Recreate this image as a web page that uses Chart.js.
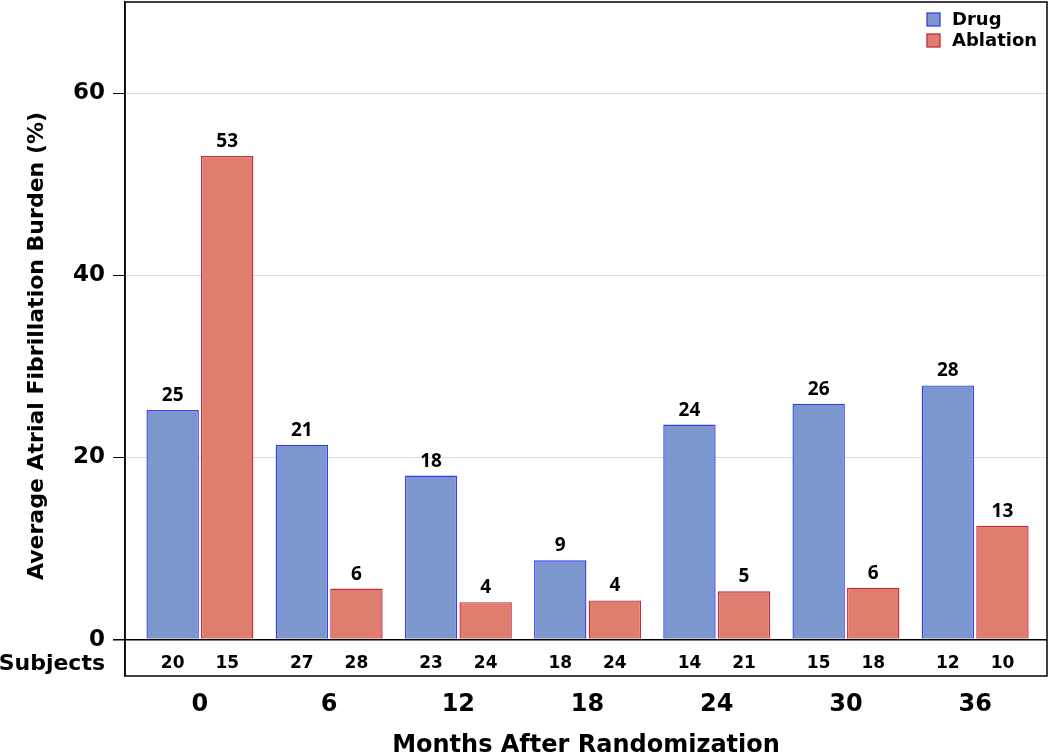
<!DOCTYPE html>
<html>
<head>
<meta charset="utf-8">
<script src="https://cdn.jsdelivr.net/npm/chart.js@4.4.0/dist/chart.umd.min.js"></script>
<style>
  html, body { margin: 0; padding: 0; background: #fff; }
  #wrap { width: 1050px; height: 755px; }
</style>
</head>
<body>
<div id="wrap"><canvas id="afChart"></canvas></div>
<script>
// Chart data
const months = ['0', '6', '12', '18', '24', '30', '36'];
const drugBurden = [25.2, 21.4, 18.0, 8.7, 23.6, 25.9, 27.9];
const ablationBurden = [53.1, 5.6, 4.1, 4.3, 5.3, 5.7, 12.5];
const drugSubjects = [20, 27, 23, 18, 14, 15, 12];
const ablationSubjects = [15, 28, 24, 24, 21, 18, 10];
const yTicks = [0, 20, 40, 60];
const yTitle = 'Average Atrial Fibrillation Burden (%)';

Chart.defaults.font.family = '"DejaVu Sans", sans-serif';
Chart.defaults.color = '#000';

// Frame, value labels, subject counts, y title and legend
const annotate = {
    id: 'annotate',
    afterDraw(chart) {
        const ctx = chart.ctx;
        const a = chart.chartArea;
        const y = chart.scales.y;
        ctx.save();
        ctx.strokeStyle = '#000';
        ctx.lineWidth = 1.5;
        ctx.strokeRect(a.left, a.top, a.right - a.left, a.bottom - a.top);

        const subjY = (y.getPixelForValue(0) + a.bottom) / 2 + 6;
        ctx.fillStyle = '#000';
        ctx.textAlign = 'center';
        [drugSubjects, ablationSubjects].forEach((subs, di) => {
            const meta = chart.getDatasetMeta(di);
            const vals = chart.data.datasets[di].data;
            meta.data.forEach((bar, i) => {
                ctx.font = 'bold 19px "Noto Sans"';
                ctx.textBaseline = 'alphabetic';
                ctx.fillText(String(Math.round(vals[i])), bar.x, bar.y - 9);
                ctx.font = 'bold 17px "DejaVu Sans"';
                ctx.textBaseline = 'middle';
                ctx.fillText(String(subs[i]), bar.x, subjY);
            });
        });

        ctx.font = 'bold 22px "DejaVu Sans"';
        ctx.textAlign = 'right';
        ctx.fillText('Subjects', a.left - 20, subjY);

        // y axis title
        ctx.save();
        ctx.translate(37, 346);
        ctx.rotate(-Math.PI / 2);
        ctx.textAlign = 'center';
        ctx.textBaseline = 'middle';
        ctx.font = 'bold 22px "DejaVu Sans"';
        ctx.fillText(yTitle, 0, 0);
        ctx.restore();

        // legend
        ctx.textAlign = 'left';
        ctx.font = 'bold 18px "DejaVu Sans"';
        chart.data.datasets.forEach((ds, i) => {
            const top = a.top + 11 + i * 21;
            ctx.fillStyle = ds.backgroundColor;
            ctx.fillRect(927, top, 13, 13);
            ctx.strokeStyle = ds.borderColor;
            ctx.lineWidth = 1.3;
            ctx.strokeRect(927, top, 13, 13);
            ctx.fillStyle = '#000';
            ctx.textBaseline = 'middle';
            ctx.fillText(ds.label, 952, top + 7);
        });
        ctx.restore();
    }
};

new Chart(document.getElementById('afChart'), {
    type: 'bar',
    data: {
        labels: months,
        datasets: [{
            label: 'Drug',
            data: drugBurden,
            backgroundColor: '#7b97cd',
            borderColor: '#3c3cee',
            borderWidth: 1.4,
            categoryPercentage: 0.845,
            barPercentage: 0.96
        }, {
            label: 'Ablation',
            data: ablationBurden,
            backgroundColor: '#df7e6f',
            borderColor: '#c42c3c',
            borderWidth: 1.4,
            categoryPercentage: 0.845,
            barPercentage: 0.96
        }]
    },
    options: {
        responsive: true,
        maintainAspectRatio: false,
        animation: false,
        layout: { padding: { top: 2, right: 3, left: 0, bottom: 0 } },
        plugins: {
            legend: { display: false },
            tooltip: { enabled: false }
        },
        scales: {
            x: {
                grid: { display: false },
                border: { display: false },
                ticks: { color: '#000', font: { size: 24, weight: 'bold' }, padding: 6 },
                title: {
                    display: true,
                    text: 'Months After Randomization',
                    color: '#000',
                    font: { size: 24, weight: 'bold' },
                    padding: { top: 0, bottom: -5 }
                },
                afterBuildTicks: s => { s._startValue = -0.58; s._valueRange = 7.136; },
                afterFit: s => { s.height = 79; }
            },
            y: {
                min: -4,
                max: 70,
                afterBuildTicks: s => { s.ticks = yTicks.map(v => ({ value: v })); },
                grid: {
                    color: c => (c.tick && c.tick.value === 0) ? '#000' : '#dcdcdc',
                    lineWidth: c => (c.tick && c.tick.value === 0) ? 1.5 : 1,
                    tickColor: '#000',
                    tickLength: 12
                },
                border: { display: true, color: '#000', width: 1.5 },
                ticks: { color: '#000', font: { size: 23, weight: 'bold' }, padding: 8 },
                title: { display: false },
                afterFit: s => { s.width = 125; s.paddingTop = 0; s.paddingBottom = 0; }
            }
        }
    },
    plugins: [annotate]
});
</script>
</body>
</html>
